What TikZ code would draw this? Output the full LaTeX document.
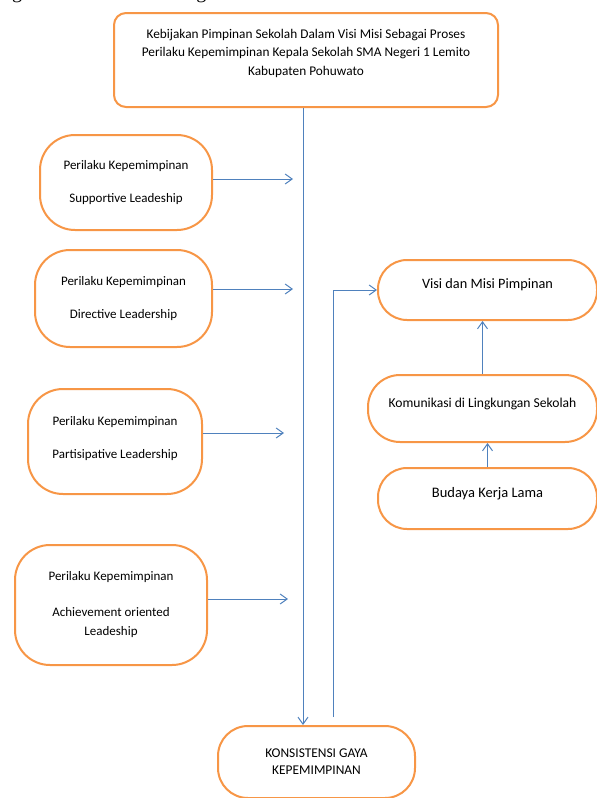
\documentclass[tikz,border=0pt]{standalone}
\usepackage{fontspec}
\setmainfont{Carlito}
\newfontfamily\bodyserif{Liberation Serif}
\usepackage{tikz}
\usetikzlibrary{arrows.meta}
\definecolor{boxOrange}{RGB}{247,150,70}
\definecolor{lineBlue}{RGB}{79,129,189}

\begin{document}
\begin{tikzpicture}[x=1pt, y=-1pt, inner sep=3pt]
   \useasboundingbox (0,0) rectangle (597,798);

   \tikzstyle{myBox}=[draw=boxOrange, line width=2pt, fill=white, align=center, rounded corners=35pt, font=\fontsize{13}{33}\selectfont];
   \tikzstyle{myArr}=[draw=lineBlue, line width=1pt, -{Straight Barb[length=7pt,width=10pt]}];

   % line of body text cut by the page top
   \node[anchor=base west, inner sep=0pt, font=\bodyserif\fontsize{20}{24}\selectfont] (intro) at (12,-1.5) {\makebox[335pt][s]{gambaran sebagai berikut}};

   \node[myBox, rounded corners=12pt, minimum width=384pt, minimum height=94pt, font=\fontsize{13.3}{18.5}\selectfont, text depth=16pt] (top) at (306,60) {Kebijakan Pimpinan Sekolah Dalam Visi Misi Sebagai Proses\\Perilaku Kepemimpinan Kepala Sekolah SMA Negeri 1 Lemito\\Kabupaten Pohuwato};

   \node[myBox, minimum width=172pt, minimum height=95pt] (sup) at (126,182.5) {Perilaku Kepemimpinan\\Supportive Leadeship};
   \node[myBox, minimum width=177pt, minimum height=97pt] (dir) at (123.5,298.5) {Perilaku Kepemimpinan\\Directive Leadership};
   \node[myBox, minimum width=174pt, minimum height=105pt, text depth=8pt] (par) at (115,441.5) {Perilaku Kepemimpinan\\Partisipative Leadership};
   \node[myBox, minimum width=192pt, minimum height=120pt, font=\fontsize{13}{19}\selectfont] (ach) at (111,605) {Perilaku Kepemimpinan\\[17pt]Achievement oriented\\Leadeship};

   \node[myBox, rounded corners=30pt, minimum width=197pt, minimum height=72pt, font=\fontsize{13.4}{17}\selectfont] (kon) at (316.5,762) {KONSISTENSI GAYA\\KEPEMIMPINAN};

   \node[myBox, rounded corners=29pt, minimum width=219pt, minimum height=60pt, font=\fontsize{14.3}{16}\selectfont, text depth=13pt] (visi) at (487.5,290) {Visi dan Misi Pimpinan};
   \node[myBox, rounded corners=32pt, minimum width=229pt, minimum height=67pt, font=\fontsize{13.6}{16}\selectfont, text depth=12pt] (kom) at (482.5,408.5) {Komunikasi di Lingkungan Sekolah};
   \node[myBox, rounded corners=29pt, minimum width=219pt, minimum height=61pt, font=\fontsize{14.5}{16}\selectfont, text depth=13pt] (bud) at (487.5,498.5) {Budaya Kerja Lama};

   \coordinate (stem) at (303,0);
   \coordinate (back) at (333,717);

   \draw[myArr] (top.south -| stem) -- (kon.north -| stem);
   \draw[myArr] ([yshift=3.5pt]sup.east) -- ++(80,0);
   \draw[myArr] ([yshift=9.5pt]dir.east) -- ++(80,0);
   \draw[myArr] ([yshift=8.5pt]par.east) -- ++(81,0);
   \draw[myArr] ([yshift=6pt]ach.east) -- ++(80,0);
   \draw[myArr] (back) |- (visi.west);
   \draw[myArr] (kom.north) -- (kom.north |- visi.south);
   \draw[myArr] (bud.north) -- (bud.north |- kom.south);
\end{tikzpicture}
\end{document}
